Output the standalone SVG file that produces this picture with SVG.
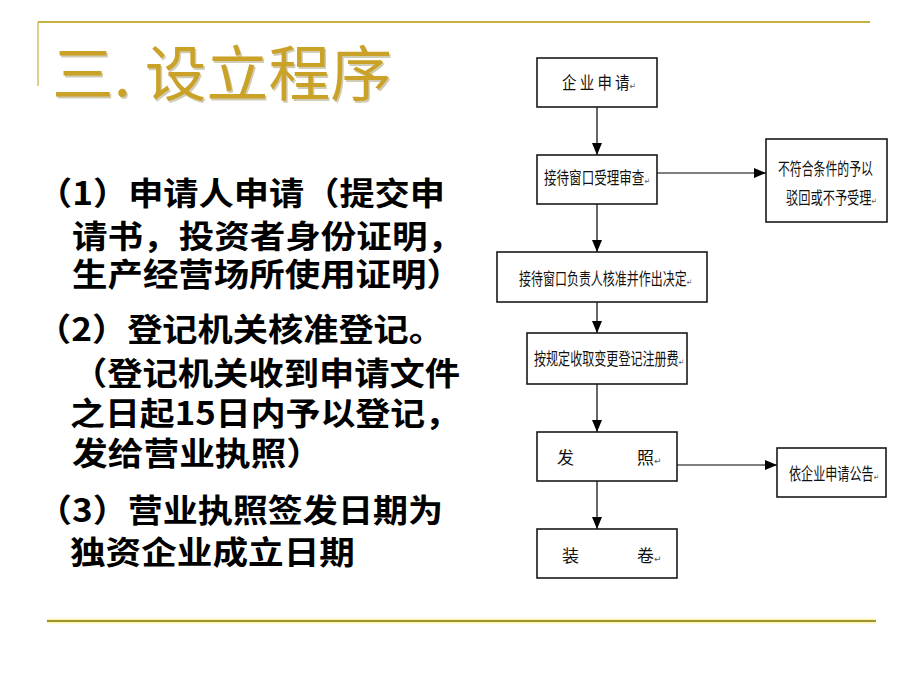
<svg xmlns="http://www.w3.org/2000/svg" width="920" height="690" viewBox="0 0 920 690">
  <defs>
    <marker id="ah" markerUnits="userSpaceOnUse" markerWidth="12" markerHeight="10" refX="12" refY="5" orient="auto">
      <path d="M0,0 L12,5 L0,10 z" fill="#000"/>
    </marker>
    <style>
      .title { font-family: "Noto Sans CJK SC", sans-serif; font-size: 60px; font-weight: 400; fill: #C9A227; }
      .shadow { font-family: "Noto Sans CJK SC", sans-serif; font-size: 60px; font-weight: 400; fill: #6b5a10; opacity: 0.3; }
      .body { font-family: "Noto Sans CJK SC", sans-serif; font-size: 32px; font-weight: bold; fill: #000; }
      .box { fill: #fff; stroke: #1a1a1a; stroke-width: 1.6; }
      .bt { font-family: "Noto Sans CJK SC", sans-serif; font-size: 17px; fill: #111; }
      .ret { font-family: "DejaVu Sans", sans-serif; font-size: 9px; fill: #555; }
      .conn line { stroke: #000; stroke-width: 1.2; marker-end: url(#ah); }
    </style>
  </defs>
  <rect width="920" height="690" fill="#fff"/>

  <!-- decorative frame lines -->
  <line x1="38" y1="22" x2="870" y2="22" stroke="#C6B040" stroke-width="2"/>
  <line x1="38" y1="22" x2="38" y2="86" stroke="#C6B040" stroke-width="1.2"/>
  <line x1="47" y1="621" x2="876" y2="621" stroke="#FFF3B0" stroke-width="5"/>
  <line x1="47" y1="621" x2="876" y2="621" stroke="#9C9430" stroke-width="2"/>

  <!-- title -->
  <text class="shadow" x="53.5" y="97.5" textLength="340" lengthAdjust="spacingAndGlyphs">三. 设立程序</text>
  <text class="title" x="52" y="96" textLength="340" lengthAdjust="spacingAndGlyphs">三. 设立程序</text>

  <!-- body text -->
  <g id="body-text">
    <text class="body" x="37" y="205" textLength="408" lengthAdjust="spacingAndGlyphs">（1）申请人申请（提交申</text>
    <text class="body" x="72" y="248" textLength="391" lengthAdjust="spacingAndGlyphs">请书，投资者身份证明，</text>
    <text class="body" x="72" y="286" textLength="390" lengthAdjust="spacingAndGlyphs">生产经营场所使用证明）</text>
    <text class="body" x="36" y="341" textLength="408" lengthAdjust="spacingAndGlyphs">（2）登记机关核准登记。</text>
    <text class="body" x="72" y="385" textLength="388" lengthAdjust="spacingAndGlyphs">（登记机关收到申请文件</text>
    <text class="body" x="70" y="425" textLength="390" lengthAdjust="spacingAndGlyphs">之日起15日内予以登记，</text>
    <text class="body" x="72" y="465" textLength="250" lengthAdjust="spacingAndGlyphs">发给营业执照）</text>
    <text class="body" x="37" y="522" textLength="406" lengthAdjust="spacingAndGlyphs">（3）营业执照签发日期为</text>
    <text class="body" x="70" y="564" textLength="285" lengthAdjust="spacingAndGlyphs">独资企业成立日期</text>
  </g>

  <!-- connectors -->
  <g id="connectors" class="conn">
    <line x1="597" y1="107" x2="597" y2="155"/>
    <line x1="657" y1="173" x2="766" y2="173"/>
    <line x1="597" y1="204" x2="597" y2="252"/>
    <line x1="597" y1="302" x2="597" y2="333"/>
    <line x1="597" y1="384" x2="597" y2="432"/>
    <line x1="677" y1="465" x2="777" y2="465"/>
    <line x1="597" y1="481" x2="597" y2="529"/>
  </g>

  <!-- nodes -->
  <g id="n1">
    <rect class="box" x="537" y="58" width="120" height="49"/>
    <text class="bt" x="562" y="89" textLength="74" lengthAdjust="spacingAndGlyphs">企 业 申 请<tspan class="ret">↵</tspan></text>
  </g>
  <g id="n2">
    <rect class="box" x="537" y="155" width="120" height="49"/>
    <text class="bt" x="544" y="184" textLength="106" lengthAdjust="spacingAndGlyphs">接待窗口受理审查<tspan class="ret">↵</tspan></text>
  </g>
  <g id="n3">
    <rect class="box" x="766" y="139" width="121" height="83"/>
    <text class="bt" x="778" y="175" textLength="95" lengthAdjust="spacingAndGlyphs">不符合条件的予以</text>
    <text class="bt" x="786" y="204" textLength="91" lengthAdjust="spacingAndGlyphs">驳回或不予受理<tspan class="ret">↵</tspan></text>
  </g>
  <g id="n4">
    <rect class="box" x="497" y="252" width="210" height="50"/>
    <text class="bt" x="519" y="285" textLength="173" lengthAdjust="spacingAndGlyphs">接待窗口负责人核准并作出决定<tspan class="ret">↵</tspan></text>
  </g>
  <g id="n5">
    <rect class="box" x="527" y="333" width="160" height="51"/>
    <text class="bt" x="534" y="365" textLength="150" lengthAdjust="spacingAndGlyphs">按规定收取变更登记注册费<tspan class="ret">↵</tspan></text>
  </g>
  <g id="n6">
    <rect class="box" x="537" y="432" width="140" height="49"/>
    <text class="bt" y="464"><tspan x="557">发</tspan><tspan x="637">照</tspan><tspan class="ret">↵</tspan></text>
  </g>
  <g id="n7">
    <rect class="box" x="777" y="448" width="109" height="49"/>
    <text class="bt" x="789" y="480" textLength="90" lengthAdjust="spacingAndGlyphs">依企业申请公告<tspan class="ret">↵</tspan></text>
  </g>
  <g id="n8">
    <rect class="box" x="537" y="529" width="140" height="49"/>
    <text class="bt" y="562"><tspan x="562">装</tspan><tspan x="637">卷</tspan><tspan class="ret">↵</tspan></text>
  </g>
</svg>
